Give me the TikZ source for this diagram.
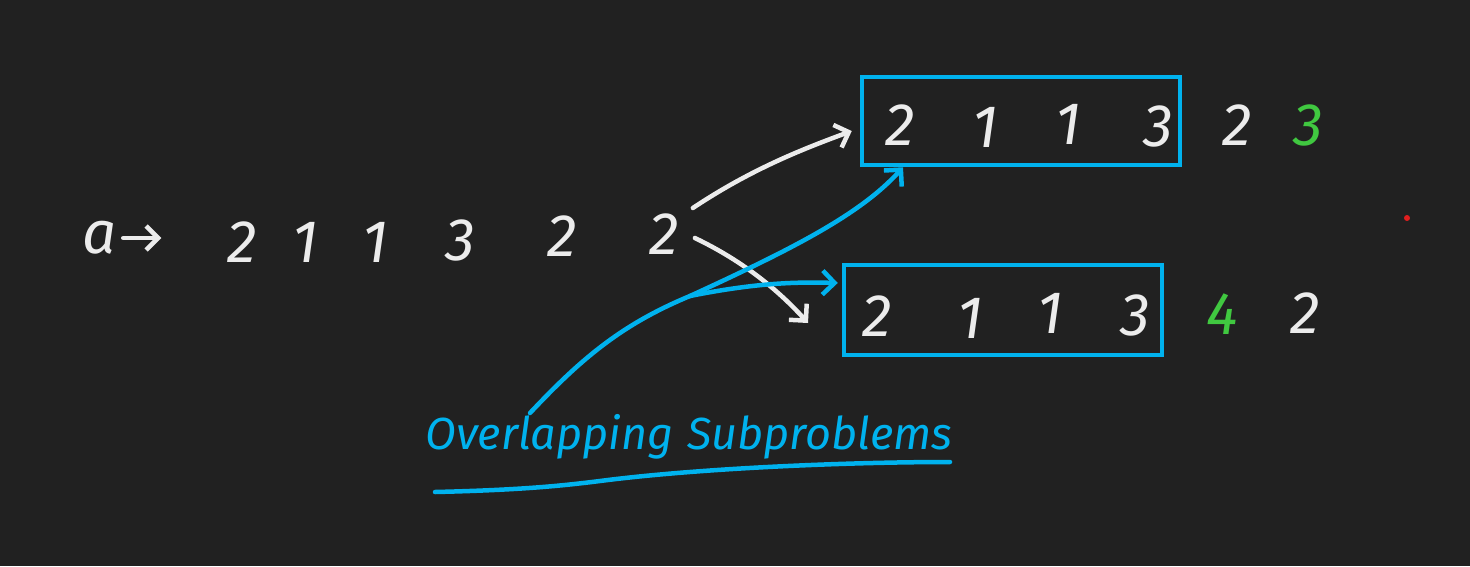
\documentclass[tikz,border=0pt]{standalone}
\usepackage{fontspec}
\setmainfont{Fira Sans}
\usetikzlibrary{arrows.meta}
\definecolor{bg}{RGB}{33,33,33}
\definecolor{ink}{RGB}{236,236,236}
\definecolor{cy}{RGB}{0,178,238}
\definecolor{gr}{RGB}{64,200,64}
\definecolor{rd}{RGB}{225,30,30}
\begin{document}
\begin{tikzpicture}[x=1pt,y=-1pt,
  dig/.style={text=ink, font=\fontsize{60}{60}\selectfont\itshape, inner sep=0pt},
  gdig/.style={dig, text=gr},
  pen/.style={draw=ink, line width=4.5pt, line cap=round, line join=round},
  bpen/.style={draw=cy, line width=4.5pt, line cap=round, line join=round},
  tip/.style={-{Straight Barb[length=12pt,width=24pt,line width=4.5pt]}},
  boxx/.style={draw=cy, line width=4.5pt, rectangle, inner sep=0pt}
]
\fill[bg] (0,0) rectangle (1470,566);
\useasboundingbox (0,0) rectangle (1470,566);

% array a
\node[dig] (a) at (100,238) {a};
\draw[pen,tip] ([xshift=6]a.east) -- ++(38,0) coordinate (ahead);
\node[dig] (d1) at (242,242) {2};
\node[dig] (d2) at (305,242) {1};
\node[dig] (d3) at (375,242) {1};
\node[dig] (d4) at (460,240) {3};
\node[dig] (d5) at (562,236) {2};
\node[dig] (d6) at (664,234) {2};

% top subarray
\node[boxx, minimum width=318, minimum height=88] (boxA) at (1021,121) {};
\node[dig] (t1) at (900,125) {2};
\node[dig] (t2) at (985,127) {1};
\node[dig] (t3) at (1068,124) {1};
\node[dig] (t4) at (1158,126) {3};
\node[dig] (t5) at (1237,125) {2};
\node[gdig] (t6) at (1308,125) {3};

% bottom subarray
\node[boxx, minimum width=318, minimum height=90] (boxB) at (1003,310) {};
\node[dig] (b1) at (877,316) {2};
\node[dig] (b2) at (970,318) {1};
\node[dig] (b3) at (1050,313) {1};
\node[dig] (b4) at (1135,315) {3};
\node[gdig] (b5) at (1222,314) {4};
\node[dig] (b6) at (1305,313) {2};

% white arrows
\draw[pen,tip] ([shift={(14,-26)}]d6.east) .. controls (750,170) and (800,150) .. ([shift={(-8,10)}]boxA.west);
\coordinate (bend) at (808,323);
\draw[pen,tip] ([shift={(16,4)}]d6.east) .. controls (745,262) and (780,292) .. (bend);

% label
\node[text=cy, font=\fontsize{45}{45}\selectfont\itshape, inner sep=0pt, anchor=west] (lbl) at (425,437) {Overlapping\hspace{14pt}Subproblems};
\draw[bpen] (435,492) .. controls (520,490) and (560,486) .. (600,481) .. controls (700,468) and (850,462) .. (950,462);

% blue pointers
\coordinate (fork) at (690,296);
\draw[bpen] (530,413) .. controls (580,360) and (620,325) .. (fork);
\draw[bpen,tip] (fork) .. controls (790,250) and (860,215) .. ([xshift=-118]boxA.south);
\draw[bpen,tip] (fork) .. controls (760,282) and (800,282) .. ([shift={(-4,-27)}]boxB.west);

% red dot
\fill[rd] (1407,218) circle (3pt);
\end{tikzpicture}
\end{document}
